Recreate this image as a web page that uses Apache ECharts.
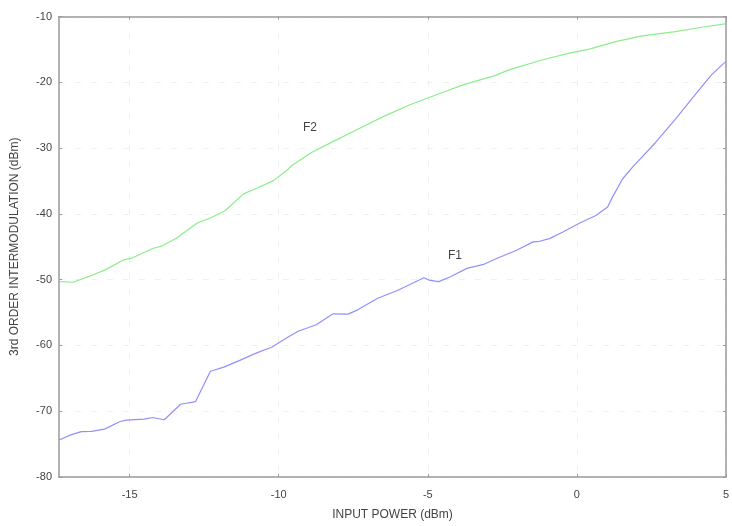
<!DOCTYPE html>
<html>
<head>
<meta charset="utf-8">
<script src="https://cdn.jsdelivr.net/npm/echarts@6/dist/echarts.min.js"></script>
<style>html,body{margin:0;padding:0;background:#fff;overflow:hidden;width:732px;height:526px;}#c{width:732px;height:526px;display:block;}</style>
</head>
<body>
<div id="c"></div>
<script>
const xTicks = [-15, -10, -5, 0, 5];
const yTicks = [-80, -70, -60, -50, -40, -30, -20, -10];

const f2X = [-17.34,-16.89,-16.39,-15.84,-15.23,-14.90,-14.23,-13.90,-13.45,-12.73,-12.29,-11.79,-11.18,-10.74,-10.18,-9.74,-9.57,-8.90,-8.13,-7.35,-6.46,-5.58,-4.69,-3.80,-2.75,-2.25,-1.14,-0.25,0.42,1.30,2.19,3.30,4.19,4.97];
const f2Y = [-50.3,-50.4,-49.55,-48.55,-47.04,-46.68,-45.27,-44.86,-43.76,-41.39,-40.63,-39.49,-36.96,-36.10,-34.95,-33.44,-32.69,-30.66,-28.91,-27.15,-25.14,-23.37,-21.86,-20.35,-18.99,-18.08,-16.57,-15.56,-14.95,-13.81,-12.95,-12.30,-11.63,-11.13];

const f1X = [-17.37,-16.95,-16.62,-16.28,-15.84,-15.34,-15.12,-14.51,-14.23,-13.84,-13.29,-12.79,-12.29,-11.84,-11.29,-10.74,-10.24,-9.74,-9.35,-8.74,-8.18,-7.68,-7.35,-6.68,-6.02,-5.13,-4.96,-4.63,-4.24,-3.69,-3.13,-2.69,-2.02,-1.47,-1.25,-0.92,-0.47,0.08,0.64,1.03,1.20,1.53,1.86,2.64,3.30,3.97,4.52,5.0];
const f1Y = [-74.38,-73.56,-73.11,-73.07,-72.72,-71.60,-71.36,-71.21,-70.95,-71.30,-68.94,-68.53,-63.93,-63.29,-62.24,-61.13,-60.27,-58.87,-57.85,-56.86,-55.20,-55.24,-54.59,-52.82,-51.66,-49.70,-50.06,-50.30,-49.55,-48.29,-47.69,-46.78,-45.53,-44.26,-44.17,-43.76,-42.75,-41.42,-40.24,-38.97,-37.42,-34.70,-32.93,-29.15,-25.63,-21.86,-18.84,-16.83];

const labelF2 = [-8.95, -26.84];
const labelF1 = [-4.09, -46.33];

const xMin = -17.37, xMax = 5;
const font = 'Liberation Sans, Arial, sans-serif';
const axisColor = '#9a9a9a';
const textColor = '#444';

function zip(a, b) { return a.map((v, i) => [v, b[i]]); }

const chart = echarts.init(document.getElementById('c'), null, { width: 732, height: 526 });
chart.setOption({
  animation: false,
  backgroundColor: '#fff',
  grid: { left: 59, right: 1, top: 16.5, bottom: 46, containLabel: false },
  xAxis: [
    {
      type: 'value', min: xMin, max: xMax, position: 'bottom',
      name: 'INPUT POWER (dBm)', nameLocation: 'middle', nameGap: 32,
      nameTextStyle: { fontFamily: font, fontSize: 12, color: textColor },
      axisLine: { show: true, onZero: false, lineStyle: { color: axisColor, width: 1.5 } },
      axisTick: { show: true, inside: true, length: 3, customValues: xTicks, lineStyle: { color: axisColor } },
      axisLabel: { show: true, customValues: xTicks, fontFamily: font, fontSize: 11, color: textColor, margin: 12, formatter: v => String(v) },
      splitLine: { show: true, lineStyle: { color: '#f0f0f0', type: [6, 10] } }
    },
    {
      type: 'value', min: xMin, max: xMax, position: 'top',
      axisLine: { show: true, onZero: false, lineStyle: { color: axisColor, width: 1.5 } },
      axisTick: { show: true, inside: true, length: 3, customValues: xTicks, lineStyle: { color: axisColor } },
      axisLabel: { show: false },
      splitLine: { show: false }
    }
  ],
  yAxis: [
    {
      type: 'value', min: -80, max: -10, interval: 10, position: 'left',
      name: '3rd ORDER INTERMODULATION (dBm)', nameLocation: 'middle', nameGap: 38, nameRotate: 90,
      nameTextStyle: { fontFamily: font, fontSize: 12, color: textColor },
      axisLine: { show: true, onZero: false, lineStyle: { color: axisColor, width: 1.5 } },
      axisTick: { show: true, inside: true, length: 3, lineStyle: { color: axisColor } },
      axisLabel: { fontFamily: font, fontSize: 11, color: textColor, margin: 7 },
      splitLine: { show: true, lineStyle: { color: '#f0f0f0', type: [6, 10] } }
    },
    {
      type: 'value', min: -80, max: -10, interval: 10, position: 'right',
      axisLine: { show: true, onZero: false, lineStyle: { color: axisColor, width: 1.5 } },
      axisTick: { show: true, inside: true, length: 3, lineStyle: { color: axisColor } },
      axisLabel: { show: false },
      splitLine: { show: false }
    }
  ],
  series: [
    {
      name: 'F2', type: 'line', data: zip(f2X, f2Y), showSymbol: false, symbol: 'none',
      lineStyle: { color: '#8aee8a', width: 1.2 }, itemStyle: { color: '#8aee8a' },
      markPoint: {
        symbol: 'circle', symbolSize: 0,
        label: { show: true, formatter: 'F2', fontFamily: font, fontSize: 12, color: textColor, position: 'inside' },
        data: [{ coord: labelF2 }]
      }
    },
    {
      name: 'F1', type: 'line', data: zip(f1X, f1Y), showSymbol: false, symbol: 'none',
      lineStyle: { color: '#9090ff', width: 1.2 }, itemStyle: { color: '#9090ff' },
      markPoint: {
        symbol: 'circle', symbolSize: 0,
        label: { show: true, formatter: 'F1', fontFamily: font, fontSize: 12, color: textColor, position: 'inside' },
        data: [{ coord: labelF1 }]
      }
    }
  ]
});
</script>
</body>
</html>
